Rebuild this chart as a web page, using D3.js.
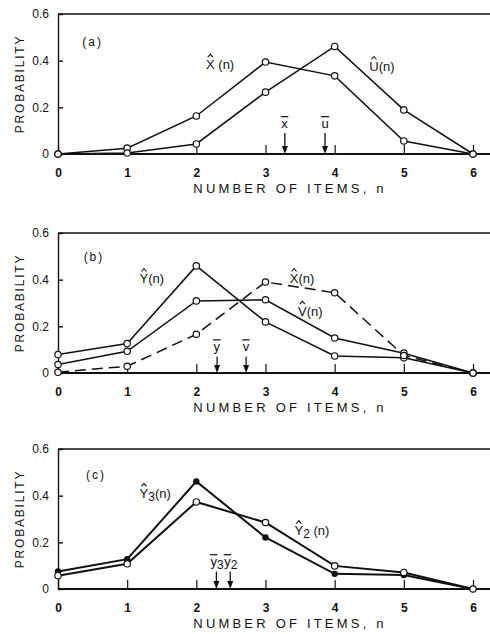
<!DOCTYPE html>
<html>
<head>
<meta charset="UTF-8">
<script src="https://d3js.org/d3.v7.min.js"></script>
<style>
  body { margin: 0; background: #fff; }
  text { font-family: "Liberation Sans", Arial, sans-serif; fill: #111; }
</style>
</head>
<body>
<div id="chart"></div>
<script>
  // data

  const items = [0, 1, 2, 3, 4, 5, 6];
  const probTicks = [0, 0.2, 0.4, 0.6];

  // panel (a)
  const xHatA = [0, 0.025, 0.163, 0.394, 0.335, 0.056, 0];
  const uHatA = [0, 0.004, 0.043, 0.265, 0.461, 0.189, 0];
  const meansA = [3.28, 3.86];

  // panel (b)
  const yHatB = [0.079, 0.126, 0.459, 0.219, 0.073, 0.065, 0];
  const vHatB = [0.036, 0.093, 0.309, 0.314, 0.150, 0.085, 0];
  const xHatB = [0.003, 0.029, 0.166, 0.390, 0.344, 0.075, 0];
  const meansB = [2.30, 2.72];

  // panel (c)
  const y3HatC = [0.075, 0.128, 0.461, 0.221, 0.065, 0.060, 0];
  const y2HatC = [0.057, 0.108, 0.373, 0.285, 0.099, 0.071, 0];
  const meansC = [2.29, 2.49];

  // set up

  const W = 490, H = 634;
  const plotLeft = 58, plotRight = 473, plotH = 140;

  const svg = d3.select('#chart')
    .append('svg')
      .attr('width', W)
      .attr('height', H);

  const panels = [
    {
      top: 14, tag: '(a)', tagPos: [0.5, 0.48], lw: 1.5,
      series: [
        { values: xHatA, label: { sym: 'X', sub: null, gap: ' (n)', at: [2.14, 0.385] } },
        { values: uHatA, label: { sym: 'U', sub: null, gap: '(n)', at: [4.5, 0.375] } }
      ],
      means: [{ sym: 'x', sub: null, v: meansA[0] }, { sym: 'u', sub: null, v: meansA[1] }],
      arrowTop: 0.09, meanLabel: 0.13
    },
    {
      top: 233, tag: '(b)', tagPos: [0.52, 0.50], lw: 1.5,
      series: [
        { values: yHatB, label: { sym: 'Y', sub: null, gap: '(n)', at: [1.18, 0.405] } },
        { values: vHatB, label: { sym: 'V', sub: null, gap: '(n)', at: [3.47, 0.265] } },
        { values: xHatB, dashed: true, label: { sym: 'X', sub: null, gap: '(n)', at: [3.35, 0.405] } }
      ],
      means: [{ sym: 'y', sub: null, v: meansB[0] }, { sym: 'v', sub: null, v: meansB[1] }],
      arrowTop: 0.07, meanLabel: 0.112
    },
    {
      top: 449, tag: '(c)', tagPos: [0.55, 0.49], lw: 2,
      series: [
        { values: y3HatC, filled: true, label: { sym: 'Y', sub: '3', gap: '(n)', at: [1.18, 0.41] } },
        { values: y2HatC, label: { sym: 'Y', sub: '2', gap: ' (n)', at: [3.42, 0.25] } }
      ],
      means: [{ sym: 'y', sub: '3', v: meansC[0] }, { sym: 'y', sub: '2', v: meansC[1] }],
      arrowTop: 0.075, meanLabel: 0.117
    }
  ];

  // draws "S(n)" with a hat or a bar over the symbol
  function symbolLabel(g, px, py, sym, sub, tail, mark, size) {
    const t = g.append('text')
      .attr('x', px).attr('y', py)
      .attr('dy', '0.35em')
      .style('font-size', size + 'px');
    const s = t.append('tspan').text(sym);
    if (sub) t.append('tspan').attr('dy', 3).style('font-size', (size - 1) + 'px').text(sub);
    if (tail) t.append('tspan').attr('dy', sub ? -3 : 0).text(tail);
    const sw = s.node().getComputedTextLength();
    const cx = px + sw / 2;
    if (mark === 'hat') {
      g.append('path')
        .attr('d', `M${cx - 2.5},${py - 7} L${cx},${py - 10} L${cx + 2.5},${py - 7}`)
        .attr('fill', 'none').attr('stroke', '#111').attr('stroke-width', 1.1);
    } else if (mark === 'bar') {
      g.append('line')
        .attr('x1', px - 0.5).attr('x2', px + sw + 0.5)
        .attr('y1', py - 7).attr('y2', py - 7)
        .attr('stroke', '#111').attr('stroke-width', 1.2);
    }
    return t;
  }

  panels.forEach(p => {
    const g = svg.append('g');

    const x = d3.scaleLinear()
        .domain([0, 6])
        .range([plotLeft, plotRight]);

    const y = d3.scaleLinear()
        .domain([0, 0.6])
        .range([p.top + plotH, p.top]);

    // axes

    const yAxis = d3.axisLeft(y)
        .tickValues(probTicks)
        .tickSizeInner(-5)
        .tickSizeOuter(0)
        .tickPadding(9)
        .tickFormat(d => d === 0 ? '0' : d.toFixed(1));

    g.append('g')
        .attr('transform', `translate(${plotLeft},0)`)
        .call(yAxis)
        .call(a => a.selectAll('line, path').attr('stroke', '#111').attr('stroke-width', 1.4))
        .call(a => a.selectAll('text').style('font-size', '12px').style('font-family', '"Liberation Sans", Arial, sans-serif'));

    const xAxis = d3.axisBottom(x)
        .tickValues(items)
        .tickSizeInner(-9)
        .tickSizeOuter(0)
        .tickPadding(14)
        .tickFormat(d3.format('d'));

    g.append('g')
        .attr('transform', `translate(0,${y(0)})`)
        .call(xAxis)
        .call(a => a.select('.domain').remove())
        .call(a => a.selectAll('line').attr('stroke', '#111').attr('stroke-width', 1.2))
        .call(a => a.selectAll('text').style('font-size', '12px').style('font-weight', 'bold').style('font-family', '"Liberation Sans", Arial, sans-serif'));

    // baseline and top frame run to the page edge
    g.append('line')
        .attr('x1', plotLeft).attr('x2', W)
        .attr('y1', y(0)).attr('y2', y(0))
        .attr('stroke', '#111').attr('stroke-width', 2);
    g.append('line')
        .attr('x1', plotLeft).attr('x2', W)
        .attr('y1', y(0.6)).attr('y2', y(0.6))
        .attr('stroke', '#111').attr('stroke-width', 1.6);

    // axis titles
    g.append('text')
        .attr('x', 290).attr('y', y(0) + 34)
        .attr('text-anchor', 'middle')
        .attr('dy', '0.35em')
        .style('font-size', '13px')
        .style('letter-spacing', '3.2px')
        .text('NUMBER OF ITEMS, n');

    g.append('text')
        .attr('transform', `translate(20,${y(0.3)}) rotate(-90)`)
        .attr('text-anchor', 'middle')
        .attr('dy', '0.35em')
        .style('font-size', '12px')
        .style('letter-spacing', '1.8px')
        .text('PROBABILITY');

    // panel tag
    g.append('text')
        .attr('x', x(p.tagPos[0])).attr('y', y(p.tagPos[1]))
        .attr('text-anchor', 'middle')
        .attr('dy', '0.35em')
        .style('font-size', '12px')
        .style('letter-spacing', '2px')
        .text(p.tag);

    // lines and markers
    const line = d3.line()
        .x((d, i) => x(items[i]))
        .y(d => y(d));

    p.series.forEach(s => {
      g.append('path')
          .datum(s.values)
          .attr('d', line)
          .attr('fill', 'none')
          .attr('stroke', '#111')
          .attr('stroke-width', p.lw)
          .attr('stroke-dasharray', s.dashed ? '11,6' : null);
    });

    p.series.forEach(s => {
      g.append('g')
        .selectAll('circle')
        .data(s.values)
        .join('circle')
          .attr('cx', (d, i) => x(items[i]))
          .attr('cy', d => y(d))
          .attr('r', s.filled ? 2.6 : 3.2)
          .attr('fill', s.filled ? '#111' : '#fff')
          .attr('stroke', '#111')
          .attr('stroke-width', 1.2);

      const l = s.label;
      symbolLabel(g, x(l.at[0]), y(l.at[1]), l.sym, l.sub, l.gap, 'hat', 13);
    });

    // mean arrows
    p.means.forEach(m => {
      const mx = x(m.v);
      g.append('line')
          .attr('x1', mx).attr('x2', mx)
          .attr('y1', y(p.arrowTop)).attr('y2', y(0) - 5)
          .attr('stroke', '#111').attr('stroke-width', 1.3);
      g.append('path')
          .attr('d', `M${mx - 3},${y(0) - 8} L${mx + 3},${y(0) - 8} L${mx},${y(0)} Z`)
          .attr('fill', '#111');
      const lw = m.sub ? 12 : 7;
      symbolLabel(g, mx - lw / 2, y(p.meanLabel), m.sym, m.sub, null, 'bar', 13);
    });
  });
</script>
</body>
</html>
